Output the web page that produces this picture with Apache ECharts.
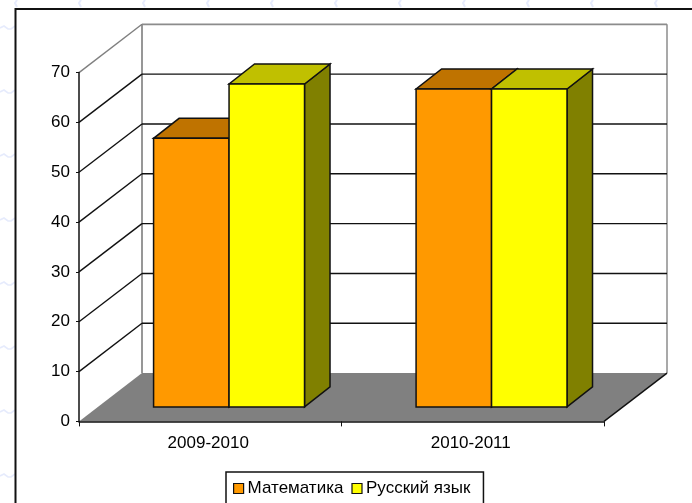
<!DOCTYPE html>
<html>
<head>
<meta charset="utf-8">
<style>html,body{margin:0;padding:0;background:#fff;overflow:hidden}#c{width:692px;height:503px}</style>
<script src="https://cdn.jsdelivr.net/npm/echarts@6/dist/echarts.min.js"></script>
</head>
<body>
<div id="c"></div>
<script>
const categories = ['2009-2010', '2010-2011'];
const yTicks = [0, 10, 20, 30, 40, 50, 60, 70];
const mathValues = [53.9, 63.8];
const russianValues = [64.8, 63.8];

const DX = 63, DY = 48.3;          // wall depth projection
const BAR_DX0 = 18.8, BAR_DY0 = 14.5; // bar front offset
const BAR_DX = 25.5, BAR_DY = 20;  // bar depth projection
const BAR_FRAC = 0.2875;           // one bar as a share of category width
const FONT = '"Liberation Sans", Arial, sans-serif';
const stroke = { stroke: '#111', lineWidth: 1.5 };

const chart = echarts.init(document.getElementById('c'), null, { renderer: 'canvas' });

function poly(points, fill, st) {
  return { type: 'polygon', shape: { points }, style: Object.assign({ fill, lineJoin: 'miter' }, st || stroke) };
}
function line(x1, y1, x2, y2, color, w) {
  return { type: 'line', shape: { x1, y1, x2, y2 }, style: { stroke: color, lineWidth: w || 1, fill: null } };
}

function renderWalls(params, api) {
  const cs = params.coordSys;
  const v = api.value(0);
  const y = api.coord([0, v])[1];
  const x0 = cs.x, x1 = cs.x + cs.width;
  const top = v === yTicks[yTicks.length - 1];
  const children = [];
  const color = top ? '#8c8c8c' : '#111';
  if (v !== 0) {
    children.push(line(x0 + DX, y - DY, x1 + DX, y - DY, color, top ? 1.8 : 1.4));
    children.push(line(x0, y, x0 + DX, y - DY, top ? '#808080' : '#111', 1.4));
  } else {
    const yt = api.coord([0, yTicks[yTicks.length - 1]])[1];
    children.push(line(x0 + DX, yt - DY, x0 + DX, y - DY, '#8c8c8c', 1.8));
    children.push(line(x1 + DX, yt - DY, x1 + DX, y - DY, '#a0a0a0', 1.8));
    children.push(poly([[x0, y], [x0 + DX, y - DY], [x1 + DX, y - DY], [x1, y]], '#808080', { stroke: 'none' }));
    children.push(line(x1, y, x1 + DX, y - DY, '#111', 1.4));
  }
  return { type: 'group', children };
}

function barRenderer(seriesIdx, front, top, side) {
  return function (params, api) {
    const cat = api.value(0), val = api.value(1);
    const c = api.coord([cat, val]);
    const b = api.coord([cat, 0]);
    const w = api.size([1, 0])[0] * BAR_FRAC;
    const xl = c[0] + (seriesIdx === 0 ? -w : 0) + BAR_DX0;
    const xr = xl + w;
    const yb = b[1] - BAR_DY0;
    const yt = c[1] - BAR_DY0;
    return {
      type: 'group',
      children: [
        poly([[xr, yb], [xr + BAR_DX, yb - BAR_DY], [xr + BAR_DX, yt - BAR_DY], [xr, yt]], side),
        poly([[xl, yt], [xr, yt], [xr + BAR_DX, yt - BAR_DY], [xl + BAR_DX, yt - BAR_DY]], top),
        poly([[xl, yb], [xr, yb], [xr, yt], [xl, yt]], front)
      ]
    };
  };
}

const squiggle = '#e6ebfc';
const deco = [];
[27, 91, 155, 219, 283, 347, 411, 475].forEach(y => deco.push({
  type: 'polyline', silent: true,
  shape: { points: [[0, y + 1], [4, y - 1], [8, y + 2], [11, y + 2], [15, y - 1]] },
  style: { stroke: squiggle, lineWidth: 1.6, fill: null }
}));
[16, 80, 144, 208, 272, 336, 400, 464, 528, 592, 656].forEach(x => deco.push({
  type: 'polyline', silent: true,
  shape: { points: [[x + 1, 0], [x - 1, 3], [x + 1, 7]] },
  style: { stroke: squiggle, lineWidth: 2, fill: null }
}));
deco.push({
  type: 'polyline', silent: true, z: 10,
  shape: { points: [[15.5, 503], [15.5, 9], [692, 9]] },
  style: { stroke: '#111', lineWidth: 2, fill: null }
});

chart.setOption({
  animation: false,
  backgroundColor: '#fff',
  textStyle: { fontFamily: FONT },
  graphic: { elements: deco },
  grid: { left: 79, top: 72.6, width: 525, height: 348.8, containLabel: false },
  legend: {
    data: ['Математика', 'Русский язык'],
    left: 226, top: 472,
    orient: 'horizontal',
    padding: [8, 13, 7, 7],
    itemWidth: 10, itemHeight: 10, itemGap: 8,
    icon: 'rect',
    backgroundColor: '#fff',
    borderColor: '#111', borderWidth: 1.5,
    itemStyle: { borderColor: '#111', borderWidth: 1.2 },
    textStyle: { fontFamily: FONT, fontSize: 17, color: '#000', padding: [3, 0, 0, -1] }
  },
  xAxis: {
    type: 'category', data: categories, boundaryGap: true, z: 6,
    axisLine: { lineStyle: { color: '#111', width: 1.5 } },
    axisTick: { show: true, length: 5, alignWithLabel: false, lineStyle: { color: '#111' } },
    axisLabel: { color: '#000', fontSize: 17, fontFamily: FONT, margin: 13, padding: [0, 4, 0, 0] },
    splitLine: { show: false }
  },
  yAxis: {
    type: 'value', min: 0, max: 70, interval: 10, z: 6,
    axisLine: { show: true, lineStyle: { color: '#111', width: 1.5 } },
    axisTick: { show: true, length: 3, lineStyle: { color: '#111' } },
    axisLabel: { color: '#000', fontSize: 17, fontFamily: FONT, margin: 9, padding: [5, 0, 0, 0] },
    splitLine: { show: false }
  },
  series: [
    {
      type: 'custom', coordinateSystem: 'cartesian2d', clip: false, silent: true, z: 1,
      data: yTicks.map(v => [v]), encode: { y: 0 },
      renderItem: renderWalls
    },
    {
      name: 'Математика', type: 'custom', coordinateSystem: 'cartesian2d', clip: false, z: 2,
      itemStyle: { color: '#FF9900' },
      data: mathValues.map((v, i) => [i, v]), encode: { x: 0, y: 1 },
      renderItem: barRenderer(0, '#FF9900', '#BF7300', '#BF7300')
    },
    {
      name: 'Русский язык', type: 'custom', coordinateSystem: 'cartesian2d', clip: false, z: 3,
      itemStyle: { color: '#FFFF00' },
      data: russianValues.map((v, i) => [i, v]), encode: { x: 0, y: 1 },
      renderItem: barRenderer(1, '#FFFF00', '#C0C000', '#808000')
    }
  ]
});
</script>
</body>
</html>
